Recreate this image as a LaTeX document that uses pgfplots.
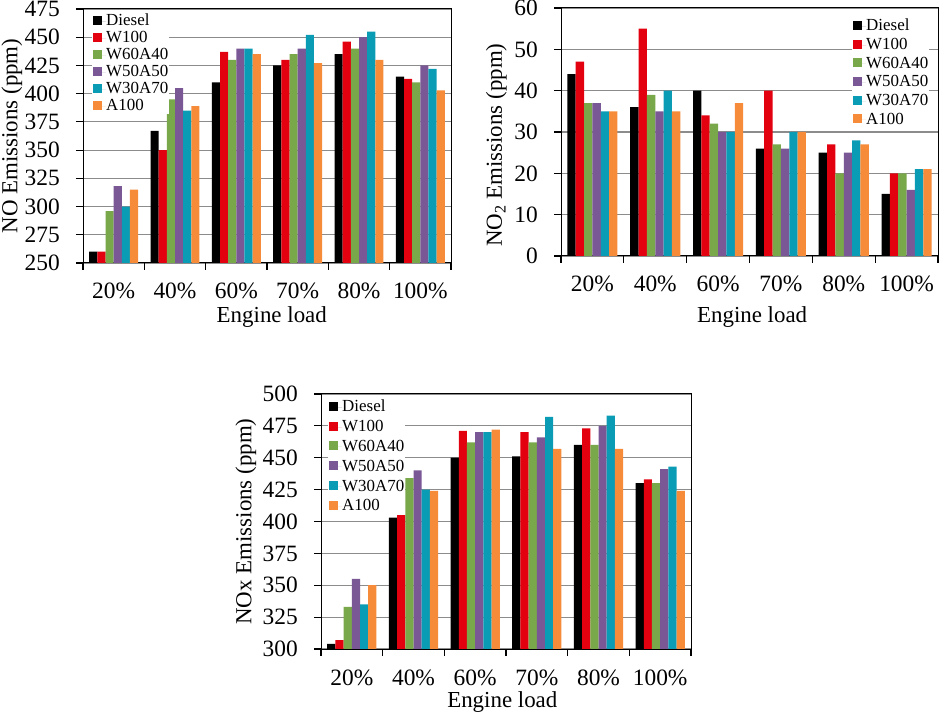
\documentclass[border=0pt]{standalone}
\usepackage{fontspec}
\setmainfont{Liberation Serif}
\usepackage{pgfplots}
\pgfplotsset{compat=1.18}
\definecolor{cD}{HTML}{000000}
\definecolor{cW}{HTML}{E3000F}
\definecolor{cG}{HTML}{79A84A}
\definecolor{cP}{HTML}{7A5896}
\definecolor{cT}{HTML}{0A9BB5}
\definecolor{cA}{HTML}{F68B3A}
\pgfplotsset{
  mybars/.style={
    scale only axis,
    anchor=south west,
    ybar=0pt,
    bar width=0.133,
    xmin=-0.5, xmax=5.5,
    xtick={0,...,5},
    xticklabels={20\%,40\%,60\%,70\%,80\%,100\%},
    minor xtick={-0.5,0.5,...,5.5},
    major x tick style={draw=none},
    tick align=outside,
    tick pos=left,
    major tick length=7bp,
    minor tick length=7bp,
    tick style={black, line width=1.2bp},
    axis line style={black, line width=1bp},
    ymajorgrids,
    major grid style={black!45, line width=1.2bp},
    /pgf/number format/assume math mode=true,
    tick label style={font=\fontsize{23.5}{27}\selectfont},
    xticklabel style={anchor=base, yshift=-29bp},
    yticklabel style={anchor=east, inner xsep=0pt, xshift=-16bp},
    every axis plot post/.append style={draw=none,
      legend image code/.code={\fill[##1] (0bp,-3.5bp) rectangle (9bp,5.5bp);
        \path (0bp,0bp) -- (13bp,0bp);}},
    legend cell align=left,
    legend style={draw=none, fill=white, inner xsep=1bp, inner ysep=0.5bp,
      font=\fontsize{17}{20}\selectfont,
      nodes={inner xsep=0bp, inner ysep=0pt, text height=12bp, text depth=3bp}},
  }
}
\begin{document}
\begin{tikzpicture}
\path[use as bounding box] (0,0) rectangle (941bp,714bp);
% ---------- NO ----------
\begin{axis}[mybars,
  at={(83bp,451bp)}, width=368bp, height=254bp,
  ymin=250, ymax=475, ytick={250,275,...,475},
  ylabel={NO Emissions (ppm)}, xlabel={Engine load},
  every axis y label/.style={at={(axis description cs:-0.193,0.5)}, rotate=90, anchor=center, font=\fontsize{23}{27}\selectfont},
  every axis x label/.style={at={(axis description cs:0.513,-0.235)}, anchor=base, font=\fontsize{23}{27}\selectfont},
  legend style={at={(axis description cs:0.0245,0.984)}, anchor=north west, row sep=2bp},
]
\addplot[fill=cD] coordinates {(0,260) (1,367) (2,410) (3,425) (4,435) (5,415)};
\addplot[fill=cW] coordinates {(0,260) (1,350) (2,437) (3,430) (4,446) (5,413)};
\addplot[fill=cG] coordinates {(0,296) (1,395) (2,430) (3,435) (4,440) (5,410)};
\addplot[fill=cP] coordinates {(0,318) (1,405) (2,440) (3,440) (4,450) (5,425)};
\addplot[fill=cT] coordinates {(0,300) (1,385) (2,440) (3,452) (4,455) (5,422)};
\addplot[fill=cA] coordinates {(0,315) (1,389) (2,435) (3,427) (4,430) (5,403)};
\legend{Diesel,W100,W60A40,W50A50,W30A70,A100}
\end{axis}
% ---------- NO2 ----------
\begin{axis}[mybars,
  at={(561bp,458bp)}, width=377bp, height=248bp,
  ymin=0, ymax=60, ytick={0,10,...,60},
  ylabel={NO\textsubscript{2} Emissions (ppm)}, xlabel={Engine load},
  every axis y label/.style={at={(axis description cs:-0.1715,0.447)}, rotate=90, anchor=center, font=\fontsize{23}{27}\selectfont},
  every axis x label/.style={at={(axis description cs:0.507,-0.270)}, anchor=base, font=\fontsize{23}{27}\selectfont},
  legend style={at={(axis description cs:0.772,0.959)}, anchor=north west, row sep=3.7bp},
]
\addplot[fill=cD] coordinates {(0,44) (1,36) (2,40) (3,26) (4,25) (5,15)};
\addplot[fill=cW] coordinates {(0,47) (1,55) (2,34) (3,40) (4,27) (5,20)};
\addplot[fill=cG] coordinates {(0,37) (1,39) (2,32) (3,27) (4,20) (5,20)};
\addplot[fill=cP] coordinates {(0,37) (1,35) (2,30) (3,26) (4,25) (5,16)};
\addplot[fill=cT] coordinates {(0,35) (1,40) (2,30) (3,30) (4,28) (5,21)};
\addplot[fill=cA] coordinates {(0,35) (1,35) (2,37) (3,30) (4,27) (5,21)};
\legend{Diesel,W100,W60A40,W50A50,W30A70,A100}
\end{axis}
% ---------- NOx ----------
\begin{axis}[mybars,
  at={(321bp,65bp)}, width=370bp, height=255bp,
  ymin=300, ymax=500, ytick={300,325,...,500},
  ylabel={NOx Emissions (ppm)}, xlabel={Engine load},
  every axis y label/.style={at={(axis description cs:-0.203,0.5)}, rotate=90, anchor=center, font=\fontsize{23}{27}\selectfont},
  every axis x label/.style={at={(axis description cs:0.49,-0.231)}, anchor=base, font=\fontsize{23}{27}\selectfont},
  legend style={at={(axis description cs:0.019,0.98)}, anchor=north west, row sep=4.8bp},
]
\addplot[fill=cD] coordinates {(0,304) (1,403) (2,450) (3,451) (4,460) (5,430)};
\addplot[fill=cW] coordinates {(0,307) (1,405) (2,471) (3,470) (4,473) (5,433)};
\addplot[fill=cG] coordinates {(0,333) (1,434) (2,462) (3,462) (4,460) (5,430)};
\addplot[fill=cP] coordinates {(0,355) (1,440) (2,470) (3,466) (4,475) (5,441)};
\addplot[fill=cT] coordinates {(0,335) (1,425) (2,470) (3,482) (4,483) (5,443)};
\addplot[fill=cA] coordinates {(0,350) (1,424) (2,472) (3,457) (4,457) (5,424)};
\legend{Diesel,W100,W60A40,W50A50,W30A70,A100}
\end{axis}
\end{tikzpicture}
\end{document}
